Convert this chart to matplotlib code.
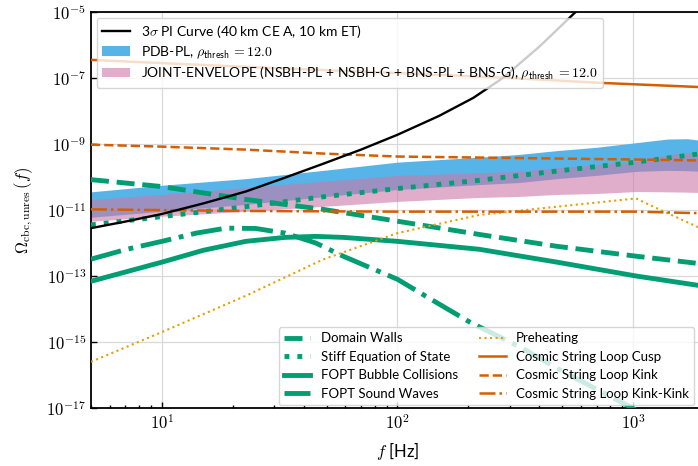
import numpy as np
import matplotlib
matplotlib.use("Agg")
import matplotlib.pyplot as plt
from matplotlib.ticker import FixedLocator, FuncFormatter, LogLocator, NullLocator

plt.rcParams["font.family"] = ["Lato", "DejaVu Sans"]
plt.rcParams["mathtext.fontset"] = "cm"

# ---------------------------------------------------------------------------
# data (values are log10 of Omega)
# ---------------------------------------------------------------------------
pi_f = [5, 7, 10, 15, 22.7, 33, 48.3, 70, 100, 150, 210, 280, 400, 570, 700]
pi_log = [-11.55, -11.35, -11.12, -10.8, -10.44, -10.03, -9.6, -9.17, -8.72,
          -8.15, -7.6, -7.0, -6.05, -5.0, -4.4]

band_f = [5, 10, 22.7, 48.3, 100, 222, 324, 475, 700, 1030, 1400, 1700, 2000]
pdb_hi = [-10.45, -10.25, -10.05, -9.8, -9.55, -9.4, -9.32, -9.2, -9.1, -8.96, -8.85, -8.84, -8.9]
pdb_lo = [-11.22, -11.04, -10.83, -10.6, -10.38, -10.23, -10.17, -10.05, -9.95, -9.83, -9.8, -9.81, -9.83]
env_hi = [-10.68, -10.53, -10.32, -10.13, -9.95, -9.87, -9.83, -9.72, -9.62, -9.53, -9.33, -9.26, -9.29]
env_lo = [-11.34, -11.19, -11.04, -10.89, -10.74, -10.62, -10.59, -10.53, -10.5, -10.44, -10.45, -10.46, -10.47]

dw_f = [5, 10, 22.7, 48.3, 100, 222, 475, 1030, 2000]
dw_log = [-10.08, -10.29, -10.68, -10.98, -11.34, -11.74, -12.1, -12.4, -12.64]

stiff_f = [5, 10, 22.7, 48.3, 100, 222, 475, 1030, 2000]
stiff_log = [-11.45, -11.2, -10.9, -10.6, -10.35, -10.1, -9.82, -9.55, -9.28]

bubble_f = [5, 10, 15, 22.7, 33.3, 45, 58.8, 100, 222, 475, 1030, 2000]
bubble_log = [-13.16, -12.58, -12.22, -11.95, -11.83, -11.8, -11.83, -11.95, -12.19, -12.58, -13.0, -13.31]

sound_f = [5, 7, 10, 14, 18.7, 25, 33.3, 45, 58.8, 100, 131, 203, 331, 505, 970, 1300]
sound_log = [-12.49, -12.2, -11.95, -11.7, -11.55, -11.56, -11.7, -12.0, -12.4, -13.1,
             -13.6, -14.4, -15.15, -15.9, -16.96, -17.5]

preheat_f = [5, 10, 22.7, 48.3, 100, 222, 475, 1030, 1220, 2000]
preheat_log = [-15.6, -14.7, -13.6, -12.5, -11.7, -11.15, -10.9, -10.65, -10.9, -11.6]

cusp_f = [5, 10, 30, 100, 300, 740, 2000]
cusp_log = [-6.45, -6.55, -6.7, -6.85, -7.0, -7.15, -7.28]

kink_f = [5, 10, 22.7, 48.3, 100, 222, 475, 1030, 2000]
kink_log = [-9.02, -9.08, -9.17, -9.29, -9.38, -9.41, -9.44, -9.47, -9.5]

kk_f = [5, 22.7, 100, 1030, 2000]
kk_log = [-10.98, -11.03, -11.05, -11.05, -11.1]

GREEN = "#029E73"
VERM = "#D55E00"
GOLD = "#E69F00"
BLUE = "#56B4E9"
PINK = "#CC79A7"


def arr(v):
    return 10.0 ** np.asarray(v)


fig = plt.figure(figsize=(6.98, 4.66), dpi=100)
ax = fig.add_axes([91 / 698, 58 / 466, (704 - 91) / 698, (454 - 58) / 466])

ax.fill_between(band_f, arr(pdb_lo), arr(pdb_hi), color=BLUE, lw=0, zorder=2,
                label=r"PDB-PL, $\rho_{\mathsf{thresh}}\, = \mathsf{12.0}$")
ax.fill_between(band_f, arr(env_lo), arr(env_hi), color=PINK, alpha=0.6, lw=0, zorder=2,
                label=r"JOINT-ENVELOPE (NSBH-PL + NSBH-G + BNS-PL + BNS-G), "
                      r"$\rho_{\mathsf{thresh}}\, = \mathsf{12.0}$")
pi_line, = ax.plot(pi_f, arr(pi_log), color="black", lw=1.7, zorder=4,
                   label=r"3$\sigma$ PI Curve (40 km CE A, 10 km ET)")

lw_g = 3.5
h_dw, = ax.plot(dw_f, arr(dw_log), color=GREEN, lw=lw_g, ls="--", zorder=3, label="Domain Walls")
h_st, = ax.plot(stiff_f, arr(stiff_log), color=GREEN, lw=lw_g, ls=":", zorder=3,
                label="Stiff Equation of State")
h_bc, = ax.plot(bubble_f, arr(bubble_log), color=GREEN, lw=lw_g, ls="-", zorder=3,
                label="FOPT Bubble Collisions")
h_sw, = ax.plot(sound_f, arr(sound_log), color=GREEN, lw=lw_g, ls="-.", zorder=3,
                label="FOPT Sound Waves")
h_ph, = ax.plot(preheat_f, arr(preheat_log), color=GOLD, lw=1.5, ls=":", zorder=3,
                label="Preheating")
h_cu, = ax.plot(cusp_f, arr(cusp_log), color=VERM, lw=1.8, ls="-", zorder=3,
                label="Cosmic String Loop Cusp")
h_ki, = ax.plot(kink_f, arr(kink_log), color=VERM, lw=1.8, ls="--", zorder=3,
                label="Cosmic String Loop Kink")
h_kk, = ax.plot(kk_f, arr(kk_log), color=VERM, lw=1.8, ls="-.", zorder=3,
                label="Cosmic String Loop Kink-Kink")

ax.set_xscale("log")
ax.set_yscale("log")
ax.set_xlim(5, 2000)
ax.set_ylim(1e-17, 1e-5)

ax.yaxis.set_major_locator(FixedLocator([10.0 ** k for k in range(-17, -4, 2)]))
ax.yaxis.set_minor_locator(NullLocator())
ax.xaxis.set_major_locator(FixedLocator([10, 100, 1000]))
ax.xaxis.set_minor_locator(LogLocator(base=10, subs=np.arange(2, 10)))
fmt = FuncFormatter(lambda v, p: r"$10^{%d}$" % int(round(np.log10(v))))
ax.xaxis.set_major_formatter(fmt)
ax.yaxis.set_major_formatter(fmt)
ax.xaxis.set_minor_formatter(FuncFormatter(lambda v, p: ""))
ax.tick_params(which="both", direction="in", labelsize=12, width=1)
ax.tick_params(which="major", length=4.5)
ax.tick_params(which="minor", length=2.5)
ax.tick_params(top=False, right=False)

ax.grid(True, which="major", color="0.85", lw=0.9, zorder=0)
ax.set_axisbelow(True)
for s in ax.spines.values():
    s.set_color("black")
    s.set_linewidth(1.3)

ax.set_xlabel(r"$f$ [Hz]", fontsize=12, labelpad=6)
ax.set_ylabel(r"$\Omega_{\rm cbc, unres}\,(f)$", fontsize=12, labelpad=8)

handles, labels = ax.get_legend_handles_labels()
order = [2, 0, 1]
leg1 = ax.legend([handles[i] for i in order], [labels[i] for i in order],
                 loc="upper left", fontsize=10, borderaxespad=0.4, labelspacing=0.3)
ax.add_artist(leg1)

ax.legend([h_dw, h_st, h_bc, h_sw, h_ph, h_cu, h_ki, h_kk],
          [h.get_label() for h in [h_dw, h_st, h_bc, h_sw, h_ph, h_cu, h_ki, h_kk]],
          loc="lower right", ncol=2, fontsize=9.5, bbox_to_anchor=(0.9886, 0.0),
          borderaxespad=0.2, columnspacing=1.6)

fig.savefig("out.png", dpi=100)
